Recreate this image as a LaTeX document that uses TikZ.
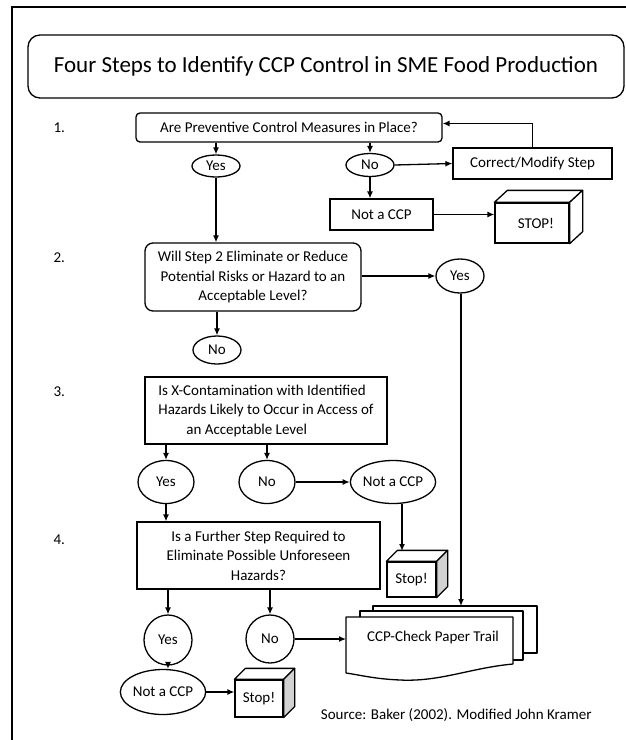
\documentclass[tikz,border=0pt]{standalone}
\usepackage{fontspec}
\setmainfont{Carlito}
\usetikzlibrary{arrows.meta,shapes.geometric,calc}
\begin{document}
\begin{tikzpicture}[x=1pt,y=-1pt,
  every node/.style={font=\fontsize{15}{19.5}\selectfont,text=black},
  rbox/.style={draw,line width=1.3pt,rounded corners=4pt,inner sep=0pt,align=center},
  sbox/.style={draw,line width=1.3pt,inner sep=0pt,align=center,fill=white},
  oval/.style={draw,ellipse,line width=1.3pt,inner sep=0pt},
  arr/.style={line width=1.3pt,-{Latex[length=7pt,width=6pt]}},
  face/.style={line width=1.3pt,line join=round}]
\useasboundingbox (0,0) rectangle (626,740);
% frame
\draw[line width=2pt] (626,7) -- (12,7) -- (12,741);
% title
\node[draw,line width=1.3pt,rounded corners=12pt,minimum width=596pt,minimum height=63pt,
  inner sep=0pt,font=\fontsize{23}{28}\selectfont] (title) at (326,66.5)
  {Four Steps to Identify CCP Control in SME Food Production};
% step numbers
\node[anchor=west] (n1) at (50,128) {1.};
\node[anchor=west] (n2) at (50,258) {2.};
\node[anchor=west] (n3) at (50,392) {3.};
\node[anchor=west] (n4) at (50,540) {4.};
% step 1
\node[rbox,minimum width=306pt,minimum height=29pt] (s1) at (289,127.5) {Are Preventive Control Measures in Place?};
\node[oval,minimum width=48pt,minimum height=22pt] (yes1) at (216,166) {Yes};
\node[oval,minimum width=48pt,minimum height=23pt] (no1) at (370,165) {No};
\node[sbox,minimum width=159pt,minimum height=31pt] (corr) at (532.5,163.5) {Correct/Modify Step};
\node[sbox,minimum width=103pt,minimum height=31pt] (ncp1) at (381.5,214.5) {Not a CCP};
\node[sbox,minimum width=74pt,minimum height=40pt] (stop1) at (532,223) {\hspace*{8pt}STOP!};
\draw[face,fill=white] (stop1.north west) -- ++(13,-12) -- ($(stop1.north east)+(13,-12)$) -- (stop1.north east) -- cycle;
\draw[face,fill=white] (stop1.north east) -- ++(13,-12) -- ($(stop1.south east)+(13,-12)$) -- (stop1.south east) -- cycle;
% step 2
\node[rbox,rounded corners=8pt,minimum width=216pt,minimum height=68pt] (s2) at (253,277)
  {Will Step 2 Eliminate or Reduce\\Potential Risks or Hazard to an\\Acceptable Level?};
\node[oval,minimum width=48pt,minimum height=34pt] (yes2) at (460,276) {Yes};
\node[oval,minimum width=48pt,minimum height=28pt] (no2) at (217,350) {No};
% step 3
\node[sbox,align=left,minimum width=242pt,minimum height=67pt] (s3) at (266,410.5)
  {Is X-Contamination with Identified\\Hazards Likely to Occur in Access of\\\hspace*{28pt}an Acceptable Level};
\node[oval,minimum width=56pt,minimum height=43pt] (yes3) at (166,482) {Yes};
\node[oval,minimum width=56pt,minimum height=43pt] (no3) at (267,482) {No};
\node[oval,minimum width=80pt,minimum height=43pt] (ncp3) at (393,482) {Not a CCP};
\node[sbox,minimum width=49pt,minimum height=35pt] (stop3) at (411.5,579.5) {Stop!};
\draw[face,fill=white] (stop3.north west) -- ++(11,-11) -- ($(stop3.north east)+(11,-11)$) -- (stop3.north east) -- cycle;
\draw[face,fill=gray!35] (stop3.north east) -- ++(11,-11) -- ($(stop3.south east)+(11,-11)$) -- (stop3.south east) -- cycle;
\coordinate (stop3top) at (402,551);
% step 4
\node[sbox,minimum width=243pt,minimum height=67pt] (s4) at (258.5,555.5)
  {Is a Further Step Required to\\Eliminate Possible Unforeseen\\Hazards?};
\node[oval,minimum width=48pt,minimum height=50pt] (yes4) at (168,640) {Yes};
\node[oval,minimum width=48pt,minimum height=48pt] (no4) at (270,639) {No};
\node[oval,minimum width=83pt,minimum height=45pt] (ncp4) at (163,692) {Not a CCP};
\node[sbox,minimum width=48pt,minimum height=37pt] (stop4) at (259,698.5) {Stop!};
\draw[face,fill=white] (stop4.north west) -- ++(11,-11) -- ($(stop4.north east)+(11,-11)$) -- (stop4.north east) -- cycle;
\draw[face,fill=gray!35] (stop4.north east) -- ++(11,-11) -- ($(stop4.south east)+(11,-11)$) -- (stop4.south east) -- cycle;
% paper trail
\draw[face,fill=white] (373,606) rectangle (537,653);
\draw[face,fill=white] (360,611) rectangle (523,660);
\draw[face,fill=white] (346,617) -- (513,617) -- (513,664) .. controls (470,668) and (440,682) .. (400,680) .. controls (375,679) and (360,675) .. (346,673) -- cycle;
\node (trail) at (433,637) {CCP-Check Paper Trail};
\coordinate (trailW) at (346,639);
\coordinate (trailT) at (461,606);
% source
\node[anchor=east] (src) at (595,715) {Source: Baker (2002). Modified John Kramer};
% connectors
\draw[arr] (s1.south -| yes1) -- (yes1.north);
\draw[arr] (s1.south -| no1) -- (no1.north);
\draw[arr] (no1.east) -- (corr.west);
\draw[arr] (corr.north) |- ($(s1.east)+(0,-4)$);
\draw[arr] (no1.south) -- (no1.south |- ncp1.north);
\draw[arr] (ncp1.east) -- (ncp1.east -| stop1.west);
\draw[arr] (yes1.south) -- (yes1.south |- s2.north);
\draw[arr] (s2.east |- yes2.west) -- (yes2.west);
\draw[arr] (yes2.south -| trailT) -- (trailT);
\draw[arr] (s2.south -| no2) -- (no2.north);
\draw[arr] (s3.south -| yes3) -- (yes3.north);
\draw[arr] (s3.south -| no3) -- (no3.north);
\draw[arr] (no3.east) -- (ncp3.west);
\draw[arr] (ncp3.south -| stop3top) -- (stop3top);
\draw[arr] (yes3.south) -- (yes3.south |- s4.north);
\draw[arr] (s4.south -| yes4) -- (yes4.north);
\draw[arr] (s4.south -| no4) -- (no4.north);
\draw[arr] (no4.east) -- (no4.east -| trailW);
\draw[arr] (yes4.south) -- (ncp4.north -| yes4);
\draw[arr] (ncp4.east) -- (ncp4.east -| stop4.west);
\end{tikzpicture}
\end{document}
